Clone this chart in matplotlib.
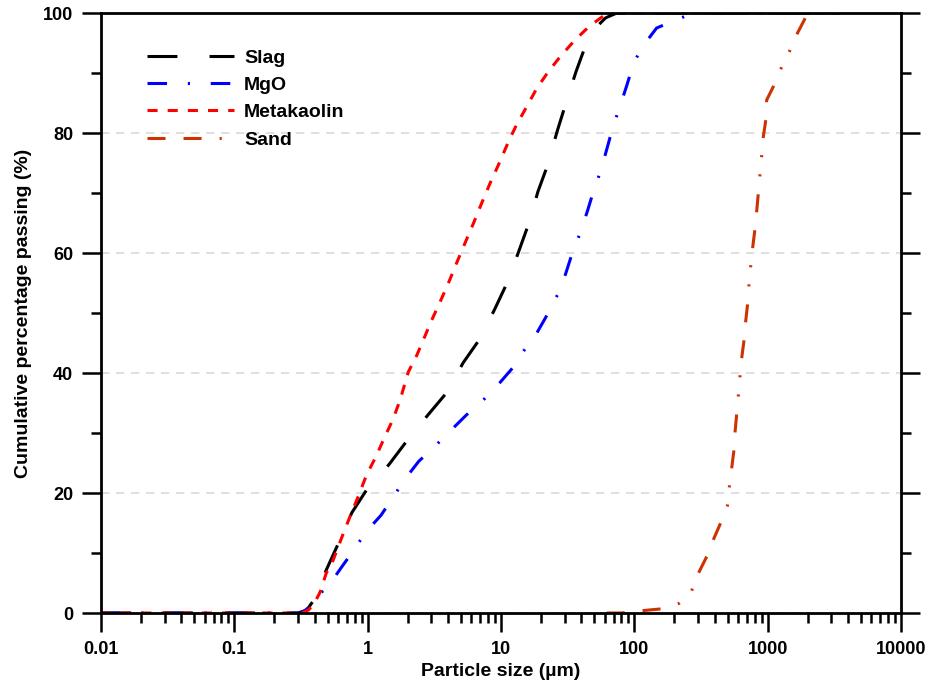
import numpy as np
import matplotlib
matplotlib.use('Agg')
import matplotlib.pyplot as plt
from matplotlib.ticker import LogLocator, MultipleLocator, NullFormatter

plt.rcParams['font.family'] = ['Liberation Sans', 'DejaVu Sans']
plt.rcParams['font.weight'] = 'bold'

# --- data (particle size in um, cumulative % passing) ---
slag_x = [0.01, 0.1, 0.3, 0.35, 0.39, 0.49, 0.6, 0.76, 1.0, 1.44, 1.97, 2.83, 3.94, 5.2,
          7.0, 9.0, 11.1, 13.6, 16.2, 18.9, 22.5, 26.3, 30.7, 36.5, 43.4, 50, 61, 74, 100, 3500]
slag_y = [0, 0, 0, 0.5, 2, 7.2, 11.5, 16.7, 20.8, 24.7, 28.7, 33, 36.8, 41.7,
          45.8, 50.7, 55, 60.3, 65, 70.2, 74.8, 80.2, 85, 90.2, 94.8, 97.3, 99.2, 100, 100, 100]

mgo_x = [0.01, 0.1, 0.32, 0.38, 0.40, 0.50, 0.64, 0.77, 0.97, 1.26, 1.52, 1.9, 2.42, 3.1,
         4.1, 5.5, 7.0, 9.3, 12.4, 14.6, 18.6, 22.6, 26.5, 30.5, 34.6, 39.2, 44.5, 50, 56,
         62.5, 69.5, 77.4, 88, 99, 116, 147, 213, 279, 3500]
mgo_y = [0, 0, 0, 1.3, 2.5, 4.3, 7.7, 10.2, 13.5, 16.3, 19, 22.3, 25.3, 27.5,
         30.2, 33, 35, 37.8, 41, 43.5, 46.7, 50, 53, 56.5, 60.3, 63.3, 67, 70.7, 73.7,
         77.5, 81.2, 84.2, 88, 91.7, 94.5, 97.5, 99, 100, 100]

meta_x = [0.01, 0.1, 0.32, 0.36, 0.40, 0.44, 0.49, 0.54, 0.65, 0.75, 0.86, 0.98, 1.15, 1.34,
          1.55, 1.75, 2.02, 2.33, 2.66, 3.02, 3.55, 4.07, 4.70, 5.43, 6.2, 7.16, 8.27, 9.66,
          11.4, 13.1, 15.6, 18.5, 22.6, 28.2, 35.9, 46, 60.3, 70, 3500]
meta_y = [0, 0, 0, 0.5, 1.7, 3.5, 6.7, 8.3, 13, 16.5, 19.7, 23, 26, 29.3,
          32.3, 35.5, 40.2, 42.9, 45.9, 48.8, 52.2, 55.2, 58.6, 61.9, 64.9, 68.3, 71.6, 74.9,
          78.6, 81.4, 84.4, 87.4, 90.2, 92.9, 95.5, 97.8, 99.7, 100, 100]

sand_x = [62, 80, 116, 161, 216, 269, 302, 349, 391, 444, 498, 516, 537, 559, 569, 586,
          603, 620, 638, 665, 684, 708, 724, 746, 772, 803, 827, 851, 876, 902, 928, 972,
          983, 1135, 1274, 1471, 1669, 1939, 2000, 3500]
sand_y = [0, 0, 0.4, 0.7, 1.6, 3.7, 6.6, 9.4, 12.2, 15, 17.8, 21, 24.1, 27.2, 30.1, 33.2,
          36.3, 39.4, 42.4, 45.5, 48.6, 51.6, 54.7, 57.8, 60.9, 64, 66.9, 70, 73.1, 76.2, 79.4, 82.4,
          85.5, 88.3, 91, 93.8, 96.6, 99.4, 100, 100]

fig = plt.figure(figsize=(9.3, 6.97), dpi=100)
ax = fig.add_axes([101 / 930, 1 - 613 / 697, 800 / 930, 600 / 697])

lw = 2.2
ax.plot(slag_x, slag_y, color='black', lw=lw, dashes=(9.8, 10.5), label='Slag')
ax.plot(mgo_x, mgo_y, color='#0000ff', lw=lw, dashes=(6.4, 6.8, 0.7, 6.8), label='MgO')
ax.plot(meta_x, meta_y, color='#ff0000', lw=lw, dashes=(3.3, 3.3), label='Metakaolin')
ax.plot(sand_x, sand_y, color='#cc3300', lw=lw,
        dashes=(5.9, 5.9, 5.9, 5.9, 0.7, 5.6, 0.7, 5.6), label='Sand')

ax.set_xscale('log')
ax.set_xlim(0.01, 10000)
ax.set_ylim(0, 100)

ax.xaxis.set_minor_locator(LogLocator(base=10, subs=np.arange(2, 10), numticks=100))
ax.xaxis.set_minor_formatter(NullFormatter())
ax.set_xticks([0.01, 0.1, 1, 10, 100, 1000, 10000])
ax.set_xticklabels(['0.01', '0.1', '1', '10', '100', '1000', '10000'])
ax.yaxis.set_major_locator(MultipleLocator(20))
ax.yaxis.set_minor_locator(MultipleLocator(10))

ax.tick_params(axis='both', which='major', direction='out', length=14, width=1.8,
               labelsize=13, pad=6)
ax.tick_params(axis='both', which='minor', direction='out', length=7, width=1.8)
ax.tick_params(axis='x', which='both', top=False, bottom=True)
ax.tick_params(axis='y', which='both', left=True, right=True)
for lab in ax.get_xticklabels() + ax.get_yticklabels():
    lab.set_fontweight('bold')

for sp in ax.spines.values():
    sp.set_linewidth(2.0)

ax.yaxis.grid(True, which='major', color='#d9d9d9', linestyle=(0, (5, 4)), lw=1.2)
ax.set_axisbelow(True)

ax.set_xlabel('Particle size (µm)', fontsize=14, fontweight='bold', labelpad=4)
ax.set_ylabel('Cumulative percentage passing (%)', fontsize=14, fontweight='bold', labelpad=8)

leg = ax.legend(loc='upper left', bbox_to_anchor=(0.0575, 0.94), frameon=False,
                borderpad=0, borderaxespad=0, handlelength=4.45, handletextpad=0.55,
                labelspacing=0.5, prop={'size': 14, 'weight': 'bold'})

fig.savefig('out.png', dpi=100)
